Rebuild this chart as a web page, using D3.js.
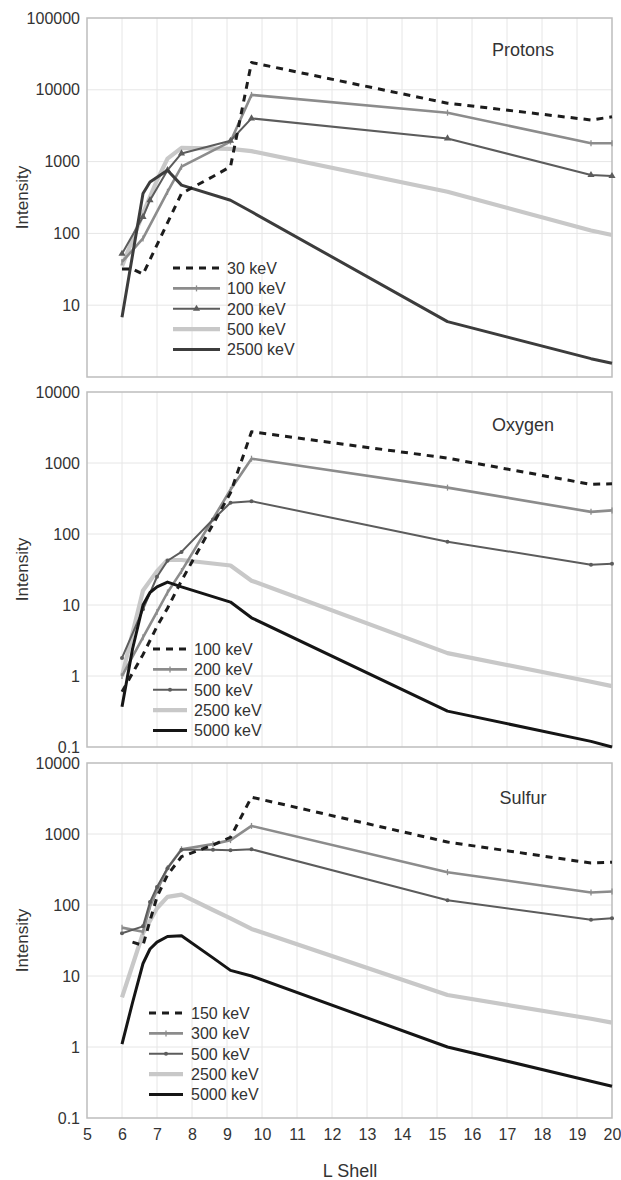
<!DOCTYPE html>
<html>
<head>
<meta charset="utf-8">
<script src="https://cdn.jsdelivr.net/npm/d3@7"></script>
<style>
  body { margin: 0; background: #fff; }
  svg text { font-family: "Liberation Sans", Arial, sans-serif; fill: #333; }
</style>
</head>
<body>
<svg id="chart" width="621" height="1180"></svg>
<script>
// L shell positions shared by all series (null = no point there)
const lGrid = [6.0, 6.3, 6.6, 6.8, 7.0, 7.3, 7.7, 8.6, 9.1, 9.7, 15.3, 19.4, 20.0];
const xTicks = [5, 6, 7, 8, 9, 10, 11, 12, 13, 14, 15, 16, 17, 18, 19, 20];

// Protons
const protonLabels = ["30 keV", "100 keV", "200 keV", "500 keV", "2500 keV"];
const p30 = [32, 32, 27, null, null, null, 360, 620, 850, 24000, 6500, 3800, 4200];
const p100 = [40, null, 85, null, null, 380, 850, null, 1900, 8500, 4800, 1800, 1800];
const p200 = [52, null, 170, 290, null, 760, 1300, null, 1950, 4000, 2100, 650, 630];
const p500 = [35, null, 190, null, 550, 1100, 1550, null, 1500, 1400, 380, 110, 95];
const p2500 = [6.8, null, 360, 520, null, 760, 470, null, 290, 200, 5.9, 1.8, 1.55];
const protonTicks = [10, 100, 1000, 10000, 100000];

// Oxygen
const oxygenLabels = ["100 keV", "200 keV", "500 keV", "2500 keV", "5000 keV"];
const o100 = [0.6, null, 2, null, 5, 9, 22, null, 380, 2750, 1170, 500, 510];
const o200 = [1.0, null, 3.5, null, 8, 15, 30, null, 420, 1150, 450, 205, 215];
const o500 = [1.8, null, 8.7, null, 25, 42, 56, 160, 275, 290, 78, 37, 38];
const o2500 = [1.0, null, 16, null, 30, 43, 43, null, 36, 22, 2.1, 0.83, 0.72];
const o5000 = [0.37, 2.4, 10, 15, 18, 21, 18, null, 11, 6.6, 0.32, 0.12, 0.1];
const oxygenTicks = [0.1, 1, 10, 100, 1000, 10000];

// Sulfur
const sulfurLabels = ["150 keV", "300 keV", "500 keV", "2500 keV", "5000 keV"];
const s150 = [null, 30, 27, 60, 130, 265, 480, 700, 900, 3300, 770, 390, 400];
const s300 = [48, null, 42, 95, 160, 330, 610, 720, 820, 1300, 290, 150, 155];
const s500 = [40, null, 50, 110, 180, 330, 600, 600, 590, 610, 117, 62, 65];
const s2500 = [5, null, 40, 60, 90, 130, 140, 85, 65, 46, 5.4, 2.5, 2.2];
const s5000 = [1.1, 4.2, 15, 24, 30, 36, 37, 18, 12, 10, 1.0, 0.33, 0.28];
const sulfurTicks = [0.1, 1, 10, 100, 1000, 10000];

const svg = d3.select("#chart");
const x = d3.scaleLinear().domain([5, 20]).range([87, 612]);

const panels = [
    {title: "Protons", series: [p30, p100, p200, p500, p2500], labels: protonLabels,
     domain: [1, 100000], ticks: protonTicks, top: 18, bottom: 377,
     mid: "tri", last: "#3c3c3c", titleY: 56, leg: {x1: 173, x2: 220, tx: 227, y0: 268}},
    {title: "Oxygen", series: [o100, o200, o500, o2500, o5000], labels: oxygenLabels,
     domain: [0.1, 10000], ticks: oxygenTicks, top: 392, bottom: 747,
     mid: "dot", last: "#151515", titleY: 431, leg: {x1: 153, x2: 187, tx: 194, y0: 649}},
    {title: "Sulfur", series: [s150, s300, s500, s2500, s5000], labels: sulfurLabels,
     domain: [0.1, 10000], ticks: sulfurTicks, top: 763, bottom: 1118,
     mid: "dot", last: "#151515", titleY: 804, leg: {x1: 149, x2: 183, tx: 191, y0: 1013}}
];

panels.forEach(function (p, pi) {
    let y = d3.scaleLog().domain(p.domain).range([p.bottom, p.top]);
    let g = svg.append("g");

    // grid
    g.append("g")
        .selectAll("line.v")
        .data(xTicks.slice(1, -1))
        .enter().append("line")
        .attr("x1", d => x(d)).attr("x2", d => x(d))
        .attr("y1", p.top).attr("y2", p.bottom)
        .attr("stroke", "#e6e6e6").attr("stroke-width", 1);
    g.append("g")
        .selectAll("line.h")
        .data(p.ticks.filter(d => d > p.domain[0] && d < p.domain[1]))
        .enter().append("line")
        .attr("x1", x(5)).attr("x2", x(20))
        .attr("y1", d => y(d)).attr("y2", d => y(d))
        .attr("stroke", "#e6e6e6").attr("stroke-width", 1);

    g.append("rect")
        .attr("x", x(5)).attr("y", p.top)
        .attr("width", x(20) - x(5)).attr("height", p.bottom - p.top)
        .attr("fill", "none").attr("stroke", "#bdbdbd").attr("stroke-width", 1.5);

    // y axis labels
    let yAxis = g.append("g")
        .attr("transform", `translate(${x(5)},0)`)
        .call(d3.axisLeft(y).tickValues(p.ticks).tickSize(0).tickPadding(7)
            .tickFormat(d => String(d)));
    yAxis.select(".domain").remove();
    yAxis.selectAll("text")
        .attr("font-size", 16).attr("fill", "#333")
        .attr("font-family", '"Liberation Sans", Arial, sans-serif');

    g.append("text")
        .attr("transform", `translate(22,${(p.top + p.bottom) / 2}) rotate(-90)`)
        .attr("text-anchor", "middle")
        .attr("dy", "0.35em")
        .attr("font-size", 17)
        .text("Intensity");

    g.append("text")
        .attr("x", 523).attr("y", p.titleY)
        .attr("text-anchor", "middle")
        .attr("font-size", 18)
        .attr("fill", "#444")
        .text(p.title);

    let styles = [
        {color: "#1c1c1c", width: 3, dash: "7,6", marker: null},
        {color: "#8c8c8c", width: 2.6, dash: null, marker: "tick"},
        {color: "#5c5c5c", width: 2, dash: null, marker: p.mid},
        {color: "#c8c8c8", width: 4.2, dash: null, marker: null},
        {color: p.last, width: 3, dash: null, marker: null}
    ];

    let line = d3.line()
        .defined(d => d[1] != null)
        .x(d => x(d[0]))
        .y(d => y(d[1]));

    // draw in order: light first so darker sit on top
    let order = [3, 1, 2, 4, 0];
    order.forEach(function (si) {
        let s = styles[si];
        let pts = lGrid.map((l, i) => [l, p.series[si][i]]).filter(d => d[1] != null);
        g.append("path")
            .datum(pts)
            .attr("d", line)
            .attr("fill", "none")
            .attr("stroke", s.color)
            .attr("stroke-width", s.width)
            .attr("stroke-linejoin", "round")
            .attr("stroke-dasharray", s.dash);
        drawMarkers(g, pts.map(d => [x(d[0]), y(d[1])]), s);
    });

    // legend
    styles.forEach(function (s, i) {
        let ly = p.leg.y0 + i * 20.4;
        g.append("line")
            .attr("x1", p.leg.x1).attr("x2", p.leg.x2)
            .attr("y1", ly).attr("y2", ly)
            .attr("stroke", s.color)
            .attr("stroke-width", s.width)
            .attr("stroke-dasharray", s.dash);
        drawMarkers(g, [[(p.leg.x1 + p.leg.x2) / 2, ly]], s);
        g.append("text")
            .attr("x", p.leg.tx).attr("y", ly)
            .attr("dy", "0.36em")
            .attr("font-size", 16)
            .text(p.labels[i]);
    });

    if (pi == panels.length - 1) {
        let xAxis = g.append("g")
            .attr("transform", `translate(0,${p.bottom})`)
            .call(d3.axisBottom(x).tickValues(xTicks).tickSize(0).tickPadding(11)
                .tickFormat(d3.format("d")));
        xAxis.select(".domain").remove();
        xAxis.selectAll("text")
            .attr("font-size", 16).attr("fill", "#333")
            .attr("font-family", '"Liberation Sans", Arial, sans-serif');
        g.append("text")
            .attr("x", 350).attr("y", 1177)
            .attr("text-anchor", "middle")
            .attr("font-size", 18)
            .text("L Shell");
    }
});

function drawMarkers(g, pts, s) {
    if (!s.marker) return;
    pts.forEach(function (pt) {
        if (s.marker == "tick") {
            g.append("line")
                .attr("x1", pt[0]).attr("x2", pt[0])
                .attr("y1", pt[1] - 3).attr("y2", pt[1] + 3)
                .attr("stroke", s.color).attr("stroke-width", 1.3);
        } else if (s.marker == "tri") {
            g.append("path")
                .attr("transform", `translate(${pt[0]},${pt[1]})`)
                .attr("d", d3.symbol(d3.symbolTriangle, 22)())
                .attr("fill", s.color);
        } else {
            g.append("circle")
                .attr("cx", pt[0]).attr("cy", pt[1]).attr("r", 2)
                .attr("fill", s.color);
        }
    });
}
</script>
</body>
</html>
